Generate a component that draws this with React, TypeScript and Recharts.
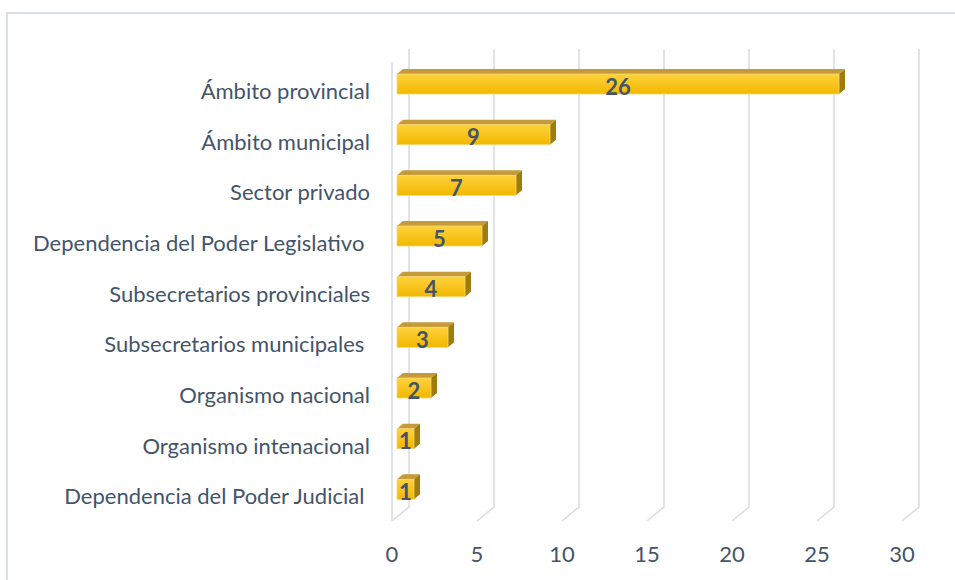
import { Bar, BarChart, XAxis, YAxis, CartesianGrid, LabelList } from "recharts";

// Categories (top to bottom) and their counts
const categories = [
  "Ámbito provincial",
  "Ámbito municipal",
  "Sector privado",
  "Dependencia del Poder Legislativo ",
  "Subsecretarios provinciales",
  "Subsecretarios municipales ",
  "Organismo nacional",
  "Organismo intenacional",
  "Dependencia del Poder Judicial ",
];
const counts = [26, 9, 7, 5, 4, 3, 2, 1, 1];
const xTicks = [0, 5, 10, 15, 20, 25, 30];

const chartData = categories.map((name, i) => ({ name, value: counts[i] }));

const TEXT = "#44546A";
const GRID = "#D9DDE5";
const FONT = "Lato, 'Open Sans', sans-serif";

// 3D-ish bar: front face, top face and right side
const Bar3D = (props: any) => {
  const { x, y, width, height } = props;
  const fx = x + 5;
  const fy = y - 7;
  const dx = 6;
  const dy = 5;
  return (
    <g>
      <path
        d={`M${fx},${fy} L${fx + dx},${fy - dy} L${fx + width + dx},${fy - dy} L${fx + width},${fy} Z`}
        fill="#C49B38"
      />
      <path
        d={`M${fx + width},${fy} L${fx + width + dx},${fy - dy} L${fx + width + dx},${fy + height - dy} L${fx + width},${fy + height} Z`}
        fill="#9E7C0E"
      />
      <rect x={fx} y={fy} width={width} height={height} fill="url(#barFront)" stroke="#F6D772" strokeWidth={0.8} />
    </g>
  );
};

const ValueLabel = (props: any) => {
  const { x, y, width, height, value } = props;
  return (
    <text
      x={x + 5 + width / 2}
      y={y - 7 + height / 2 + 2}
      textAnchor="middle"
      dominantBaseline="central"
      fill={TEXT}
      fontFamily={FONT}
      fontWeight="bold"
      fontSize={22}
    >
      {value}
    </text>
  );
};

// back wall line + floor diagonal for each x tick
const GridLine = (props: any) => {
  const { x1, y1, y2, index } = props;
  return (
    <g key={`g-${index}`}>
      <path
        d={`M${x1 + 17},${y1 - 17} L${x1 + 17},${y2 - 15} L${x1},${y2 - 1}`}
        fill="none"
        stroke={GRID}
        strokeWidth={1.6}
      />
      {index === 0 && (
        <line x1={x1} y1={y1 - 4} x2={x1} y2={y2 - 1} stroke={GRID} strokeWidth={1.6} />
      )}
    </g>
  );
};

const CategoryTick = (props: any) => {
  const { x, y, payload } = props;
  return (
    <text
      x={x}
      y={y - 1}
      textAnchor="end"
      dominantBaseline="central"
      fill={TEXT}
      fontFamily={FONT}
      fontSize={22}
      style={{ whiteSpace: "pre" }}
    >
      {payload.value}
    </text>
  );
};

const ValueTick = (props: any) => {
  const { x, y, payload } = props;
  return (
    <text x={x} y={y + 31} textAnchor="middle" dominantBaseline="central" fill={TEXT} fontFamily={FONT} fontSize={22}>
      {payload.value}
    </text>
  );
};

const App = () => {
  return (
    <div style={{ position: "absolute", left: 0, top: 0, width: 955, height: 580, background: "#fff", overflow: "hidden" }}>
      <div
        style={{
          position: "absolute",
          left: 6,
          top: 12,
          width: 1000,
          height: 600,
          borderLeft: `2px solid ${GRID}`,
          borderTop: `2px solid ${GRID}`,
        }}
      />
      <div style={{ position: "absolute", left: 0, top: 0 }}>
        <BarChart
          width={955}
          height={580}
          data={chartData}
          layout="vertical"
          margin={{ top: 66, right: 53, left: 0, bottom: 18 }}
        >
          <defs>
            <linearGradient id="barFront" x1="0" y1="0" x2="0" y2="1">
              <stop offset="0%" stopColor="#FFD23D" />
              <stop offset="100%" stopColor="#F1B800" />
            </linearGradient>
          </defs>
          <CartesianGrid horizontal={false} vertical={GridLine} stroke={GRID} />
          <XAxis
            type="number"
            domain={[0, 30]}
            ticks={xTicks}
            interval={0}
            axisLine={false}
            tickLine={false}
            tickSize={0}
            tickMargin={0}
            height={40}
            tick={ValueTick}
          />
          <YAxis
            type="category"
            dataKey="name"
            width={392}
            axisLine={false}
            tickLine={false}
            tickSize={0}
            tickMargin={22}
            interval={0}
            tick={CategoryTick}
          />
          <Bar dataKey="value" barSize={20} shape={Bar3D} isAnimationActive={false}>
            <LabelList dataKey="value" content={ValueLabel} />
          </Bar>
        </BarChart>
      </div>
    </div>
  );
};

export default App;
